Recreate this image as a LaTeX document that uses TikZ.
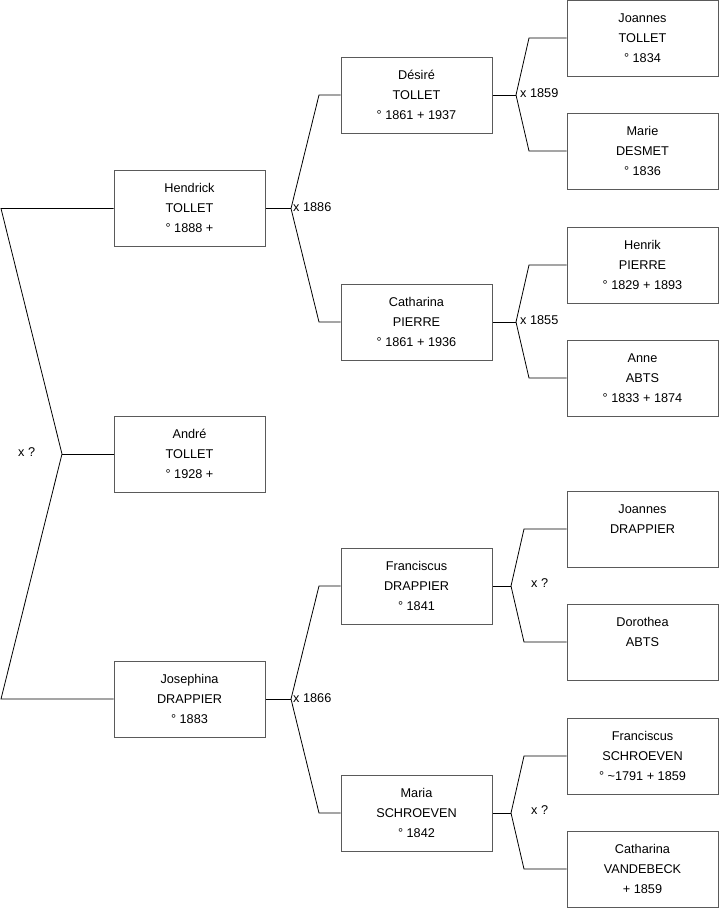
\documentclass[tikz,border=0pt]{standalone}
\usepackage{fontspec}
\setmainfont{Liberation Sans}
\definecolor{boxgray}{RGB}{90,90,90}
\newcommand{\pp}[3]{\strut #1\\#2\\#3\strut}
\begin{document}
\begin{tikzpicture}[x=1pt,y=-1pt,
  person/.style={draw=boxgray, line width=1pt, minimum width=151pt, minimum height=76pt,
    inner sep=0pt, align=center, font=\fontsize{12.7}{20}\selectfont},
  conn/.style={draw=black, line width=0.8pt},
  lbl/.style={font=\fontsize{12.7}{15}\selectfont, anchor=west, inner sep=0pt}]
\useasboundingbox (0,0) rectangle (719,908);
% column 1
\node[person] (hendrick) at (189.5,208.5) {\pp{Hendrick}{TOLLET}{° 1888 +}};
\node[person] (andre) at (189.5,454) {\pp{André}{TOLLET}{° 1928 +}};
\node[person] (josephina) at (189.5,699) {\pp{Josephina}{DRAPPIER}{° 1883}};
% column 2
\node[person] (desire) at (416.5,95) {\pp{Désiré}{TOLLET}{° 1861 + 1937}};
\node[person] (catharina) at (416.5,322) {\pp{Catharina}{PIERRE}{° 1861 + 1936}};
\node[person] (franciscus) at (416.5,586) {\pp{Franciscus}{DRAPPIER}{° 1841}};
\node[person] (maria) at (416.5,813) {\pp{Maria}{SCHROEVEN}{° 1842}};
% column 3
\node[person] (joannesT) at (642.5,38) {\pp{Joannes}{TOLLET}{° 1834}};
\node[person] (marie) at (642.5,151) {\pp{Marie}{DESMET}{° 1836}};
\node[person] (henrik) at (642.5,265) {\pp{Henrik}{PIERRE}{° 1829 + 1893}};
\node[person] (anne) at (642.5,378) {\pp{Anne}{ABTS}{° 1833 + 1874}};
\node[person] (joannesD) at (642.5,529) {\pp{Joannes}{DRAPPIER}{}};
\node[person] (dorothea) at (642.5,642) {\pp{Dorothea}{ABTS}{}};
\node[person] (franciscusS) at (642.5,756) {\pp{Franciscus}{SCHROEVEN}{° \textasciitilde 1791 + 1859}};
\node[person] (catharinaV) at (642.5,869) {\pp{Catharina}{VANDEBECK}{+ 1859}};
% fork points
\coordinate (a1) at (1,208.5);
\coordinate (a2) at (62,454);
\coordinate (a3) at (1,699);
\coordinate (f1) at (291,208.5);
\coordinate (f2) at (291,699);
\coordinate (g1) at (516,95);
\coordinate (g2) at (516,322);
\coordinate (g3) at (511,586);
\coordinate (g4) at (511,813);
% left fork
\draw[conn] (hendrick.west) -- (a1) -- (a2) -- (a3) -- (josephina.west);
\draw[conn] (a2) -- (andre.west);
\node[lbl] (l0) at (18,452) {x ?};
% column 2 forks
\draw[conn] (hendrick.east) -- (f1);
\draw[conn] (f1) -- (319,95) -- (desire.west);
\draw[conn] (f1) -- (319,322) -- (catharina.west);
\node[lbl] (l1) at (293,207.5) {x 1886};
\draw[conn] (josephina.east) -- (f2);
\draw[conn] (f2) -- (319,586) -- (franciscus.west);
\draw[conn] (f2) -- (319,813) -- (maria.west);
\node[lbl] (l2) at (293,698) {x 1866};
% column 3 forks
\draw[conn] (desire.east) -- (g1);
\draw[conn] (g1) -- (529,38) -- (joannesT.west);
\draw[conn] (g1) -- (529,151) -- (marie.west);
\node[lbl] (l3) at (520,93) {x 1859};
\draw[conn] (catharina.east) -- (g2);
\draw[conn] (g2) -- (529,265) -- (henrik.west);
\draw[conn] (g2) -- (529,378) -- (anne.west);
\node[lbl] (l4) at (520,320) {x 1855};
\draw[conn] (franciscus.east) -- (g3);
\draw[conn] (g3) -- (524,529) -- (joannesD.west);
\draw[conn] (g3) -- (524,642) -- (dorothea.west);
\node[lbl] (l5) at (531,583) {x ?};
\draw[conn] (maria.east) -- (g4);
\draw[conn] (g4) -- (524,756) -- (franciscusS.west);
\draw[conn] (g4) -- (524,869) -- (catharinaV.west);
\node[lbl] (l6) at (531,810) {x ?};
\end{tikzpicture}
\end{document}
